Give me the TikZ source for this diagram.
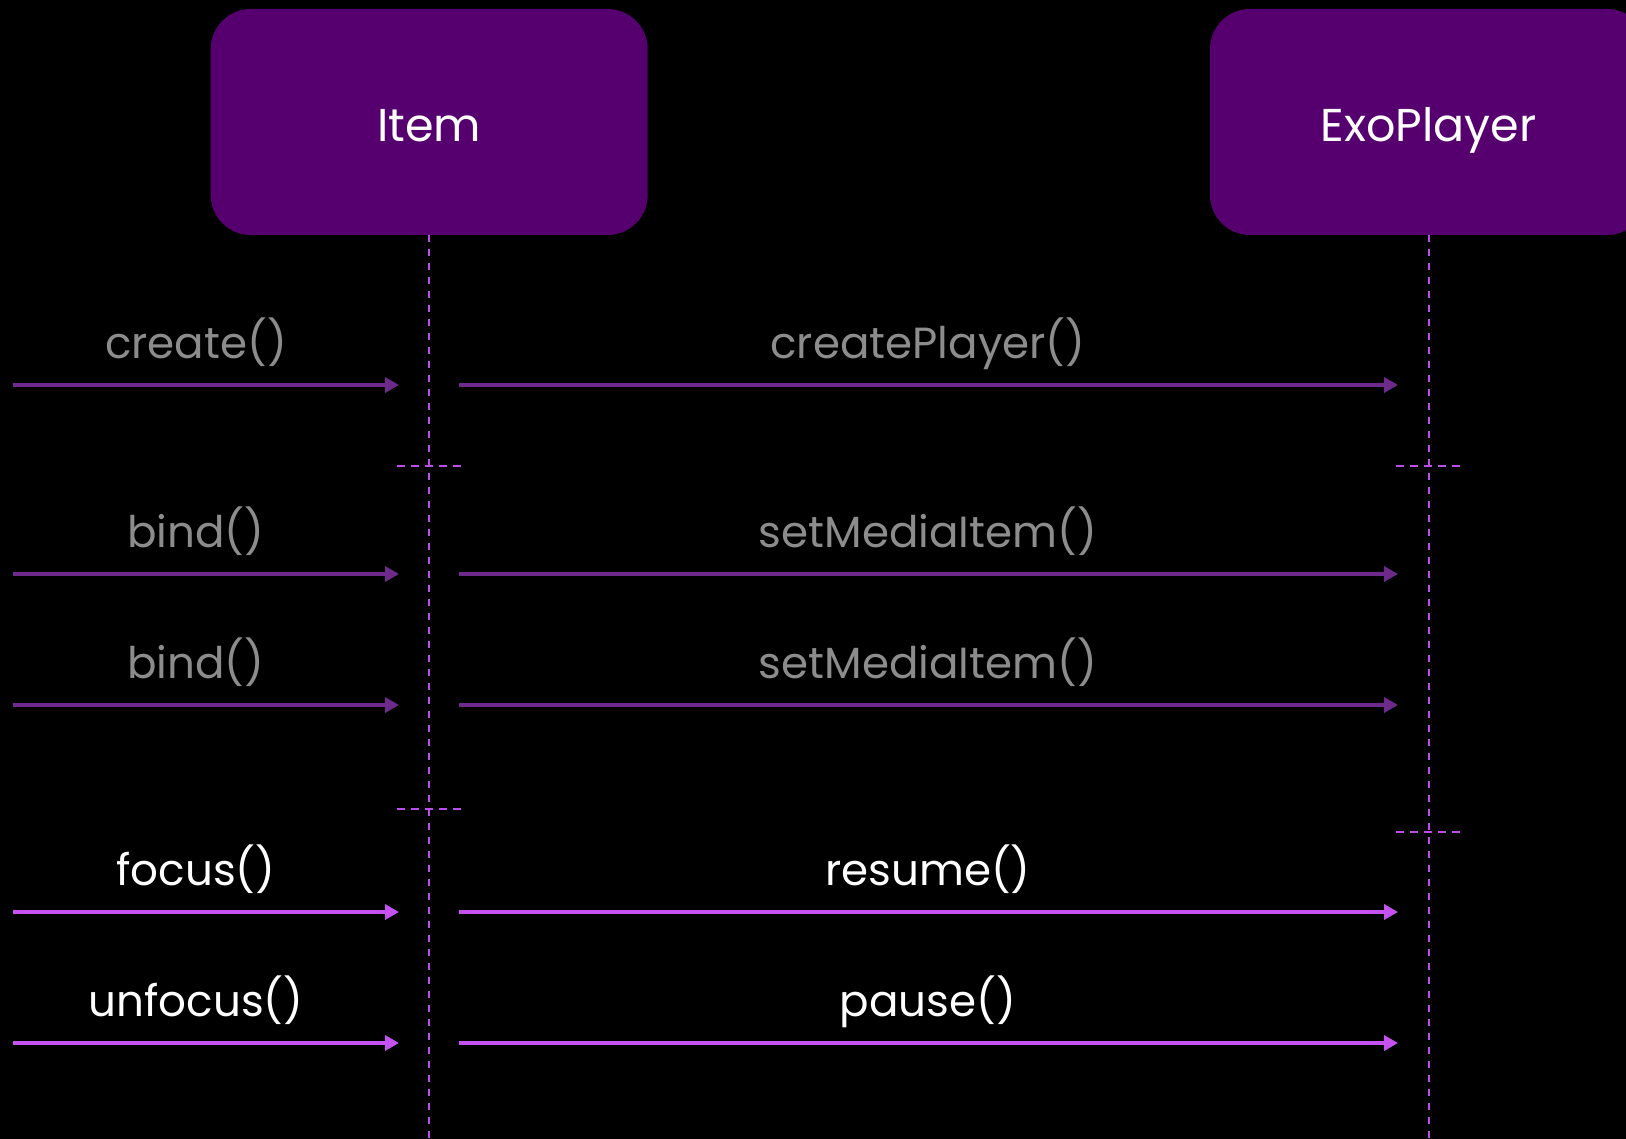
\documentclass[tikz,border=0pt]{standalone}
\usepackage{fontspec}
\setmainfont{Poppins}
\usetikzlibrary{arrows.meta}

\definecolor{actorfill}{HTML}{55006E}
\definecolor{lifecol}{HTML}{BE4BEB}
\definecolor{oldcol}{HTML}{6E2A8A}
\definecolor{newcol}{HTML}{C552F0}
\definecolor{oldtextcol}{HTML}{8C8C8C}

\tikzset{
  actor/.style={fill=actorfill, draw=none, rounded corners=20pt,
    minimum width=218.5pt, minimum height=113pt, inner sep=0pt,
    text=white, font=\fontsize{23}{27}\selectfont,
    text height=19.7pt, text depth=0pt},
  lifeline/.style={draw=lifecol, line width=1pt, dash pattern=on 3.5pt off 3.5pt},
  tick/.style={draw=lifecol, line width=1pt, dash pattern=on 4pt off 3pt},
  oldcall/.style={draw=oldcol, line width=2pt,
    -{Triangle[length=7pt,width=7.5pt]}},
  newcall/.style={draw=newcol, line width=2pt,
    -{Triangle[length=7pt,width=7.5pt]}},
  msgtext/.style={anchor=base, inner sep=0pt, font=\fontsize{21.8}{26}\selectfont},
  oldtext/.style={msgtext, text=oldtextcol},
  newtext/.style={msgtext, text=white}
}

\begin{document}
\begin{tikzpicture}[x=0.5pt, y=-0.5pt]
  % canvas
  \fill[black] (0,0) rectangle (1626,1139);
  \useasboundingbox (0,0) rectangle (1626,1139);
  \clip (0,0) rectangle (1626,1139);

  % participants
  \node[actor] (item) at (429.2,122) {Item};
  \node[actor] (exo) at (1428.5,122) {ExoPlayer};

  % lifelines
  \coordinate (itemend) at (429.2,1139);
  \coordinate (exoend) at (1428.5,1139);
  \draw[lifeline] (item.south) -- (itemend);
  \draw[lifeline] (exo.south) -- (exoend);

  % phase separators on the lifelines
  \coordinate (ia1) at (397,466);  \coordinate (ib1) at (461,466);
  \coordinate (ia2) at (397,809);  \coordinate (ib2) at (461,809);
  \coordinate (ea1) at (1396,466); \coordinate (eb1) at (1460,466);
  \coordinate (ea2) at (1396,832); \coordinate (eb2) at (1460,832);
  \draw[tick] (ia1) -- (ib1);
  \draw[tick] (ia2) -- (ib2);
  \draw[tick] (ea1) -- (eb1);
  \draw[tick] (ea2) -- (eb2);

  % messages: row y / call into Item / call into ExoPlayer / kind
  \foreach \y/\l/\r/\k [count=\i] in {
      385/create()/createPlayer()/old,
      574/bind()/setMediaItem()/old,
      705/bind()/setMediaItem()/old,
      912/focus()/resume()/new,
      1043/unfocus()/pause()/new} {
    \coordinate (ls\i) at (13,\y);
    \coordinate (le\i) at (399,\y);
    \coordinate (rs\i) at (459,\y);
    \coordinate (re\i) at (1398,\y);
    \draw[\k call] (ls\i) -- (le\i);
    \draw[\k call] (rs\i) -- (re\i);
    \node[\k text] (lt\i) at (196,\y-27) {\l};
    \node[\k text] (rt\i) at (928,\y-27) {\r};
  }
\end{tikzpicture}
\end{document}
